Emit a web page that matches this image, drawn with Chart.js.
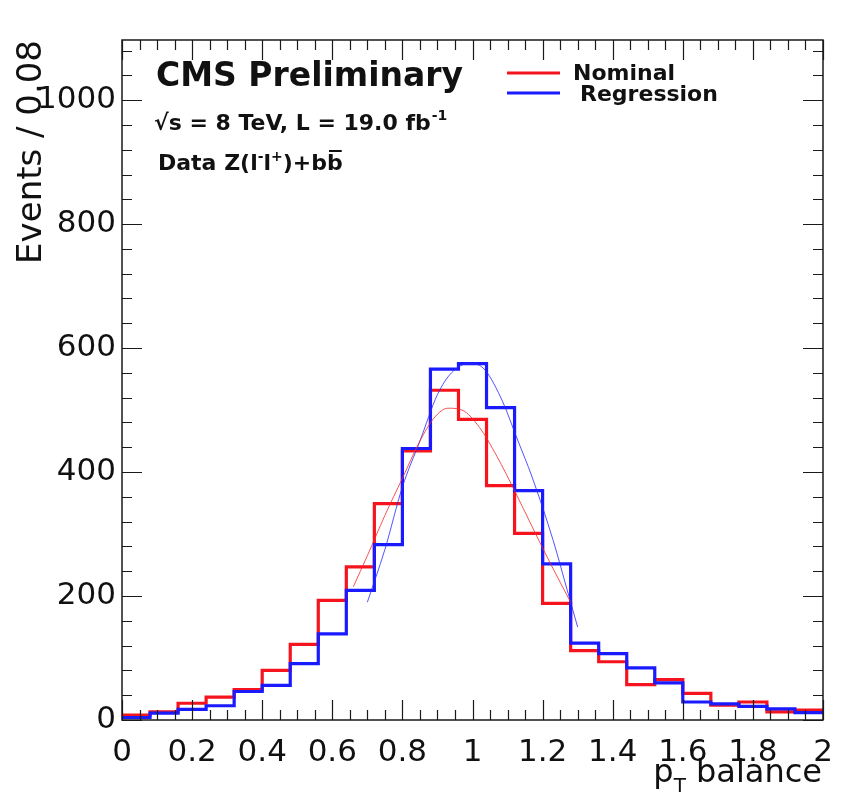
<!DOCTYPE html>
<html><head><meta charset="utf-8">
<script src="https://cdn.jsdelivr.net/npm/chart.js@4.4.1/dist/chart.umd.min.js"></script>
<style>html,body{margin:0;padding:0;background:#fff;}canvas{display:block;}</style>
</head><body>
<canvas id="c" width="848" height="811" style="width:848px;height:811px"></canvas>
<script>
// ---- data ----
const binEdges = [0,0.08,0.16,0.24,0.32,0.40,0.48,0.56,0.64,0.72,0.80,0.88,0.96,1.04,1.12,1.20,1.28,1.36,1.44,1.52,1.60,1.68,1.76,1.84,1.92,2.00];
const nominal    = [8,13,27,37,49,80,122,193,247,349,434,532,485,378,301,188,112,94,57,65,43,24,29,13,16];
const regression = [4,11,17,23,46,56,91,139,209,283,438,566,575,504,370,252,124,107,84,60,29,26,22,18,12];
const nominalFitX = [0.66,0.70,0.75,0.80,0.85,0.89,0.93,0.97,1.02,1.07,1.12,1.17,1.22,1.28];
const nominalFitY = [215,265,330,390,450,487,503,500,472,425,370,312,255,190];
const regressionFitX = [0.70,0.75,0.80,0.85,0.90,0.94,0.99,1.03,1.08,1.13,1.17,1.23,1.27,1.30];
const regressionFitY = [190,275,376,450,525,560,575,568,521,450,392,290,210,150];
const xTickValues = [0,0.2,0.4,0.6,0.8,1,1.2,1.4,1.6,1.8,2];
const yTickValues = [0,200,400,600,800,1000];
const seriesNames = ['Nominal','Regression'];

const RED = '#f5141e', BLUE = '#1a1aff';
const FONT = '"DejaVu Sans", sans-serif';

function stepPoints(vals){
  const pts = vals.map((v,i)=>({x:binEdges[i], y:v}));
  pts.push({x:binEdges[binEdges.length-1], y:vals[vals.length-1]});
  return pts;
}
function xyPoints(xs, ys){ return xs.map((x,i)=>({x:x, y:ys[i]})); }

const frameTicks = {
  id:'frameTicks',
  afterDraw(chart){
    const ctx = chart.ctx, a = chart.chartArea;
    const xs = chart.scales.x, ys = chart.scales.y;
    ctx.save();
    ctx.strokeStyle = '#1a1a1a';
    ctx.lineWidth = 1.5;
    ctx.strokeRect(a.left, a.top, a.right - a.left, a.bottom - a.top);
    ctx.lineWidth = 1.2;
    ctx.beginPath();
    for (let v = 0; v <= ys.max + 0.001; v += 40) {
      const major = Math.abs(v % 200) < 1e-6;
      const len = major ? 20 : 10;
      const p = Math.round(ys.getPixelForValue(v)) + 0.5;
      ctx.moveTo(a.left, p); ctx.lineTo(a.left + len, p);
      ctx.moveTo(a.right, p); ctx.lineTo(a.right - len, p);
    }
    for (let k = 0; k <= 40; k++) {
      const v = k * 0.05;
      const major = k % 4 === 0;
      const len = major ? 20 : 10;
      const p = Math.round(xs.getPixelForValue(v)) + 0.5;
      ctx.moveTo(p, a.bottom); ctx.lineTo(p, a.bottom - len);
      ctx.moveTo(p, a.top); ctx.lineTo(p, a.top + len);
    }
    ctx.stroke();
    ctx.restore();
  }
};

const annotations = {
  id:'annotations',
  afterDraw(chart){
    const ctx = chart.ctx;
    ctx.save();
    ctx.fillStyle = '#111';
    ctx.textBaseline = 'alphabetic';
    ctx.textAlign = 'left';
    ctx.font = 'bold 33px ' + FONT;
    ctx.fillText('CMS Preliminary', 156, 86);
    ctx.font = 'bold 22px ' + FONT;
    let x = 154;
    const t1 = '\u221As = 8 TeV, L = 19.0 fb';
    ctx.fillText(t1, x, 130);
    x += ctx.measureText(t1).width + 1;
    ctx.font = 'bold 14px ' + FONT;
    ctx.fillText('-1', x, 120);
    x = 158;
    const y3 = 170;
    const parts = [['Data Z(l',0,22],['-',-9,14],['l',0,22],['+',-9,14],[')+b',0,22]];
    for (const [s,dy,fs] of parts) {
      ctx.font = 'bold ' + fs + 'px ' + FONT;
      ctx.fillText(s, x, y3 + dy);
      x += ctx.measureText(s).width;
    }
    ctx.font = 'bold 22px ' + FONT;
    const bw = ctx.measureText('b').width;
    ctx.fillText('b', x, y3);
    ctx.fillRect(x + 2, y3 - 20, bw - 3, 2);
    ctx.lineWidth = 3;
    ctx.strokeStyle = RED;
    ctx.beginPath(); ctx.moveTo(507, 73); ctx.lineTo(560, 73); ctx.stroke();
    ctx.strokeStyle = BLUE;
    ctx.beginPath(); ctx.moveTo(507, 93); ctx.lineTo(560, 93); ctx.stroke();
    ctx.font = 'bold 22px ' + FONT;
    ctx.fillStyle = '#111';
    ctx.fillText(seriesNames[0], 573, 80);
    ctx.fillText(seriesNames[1], 580, 101);
    ctx.font = '32px ' + FONT;
    const tail = ' balance';
    const wTail = ctx.measureText(tail).width;
    const wp = ctx.measureText('p').width;
    ctx.font = '20px ' + FONT;
    const wT = ctx.measureText('T').width;
    const right = 822, base = 782;
    let sx = right - wTail - wT - wp;
    ctx.font = '32px ' + FONT;
    ctx.fillText('p', sx, base);
    ctx.font = '20px ' + FONT;
    ctx.fillText('T', sx + wp, base + 10);
    ctx.font = '32px ' + FONT;
    ctx.fillText(tail, sx + wp + wT, base);
    ctx.restore();
  }
};

new Chart(document.getElementById('c'), {
  type:'line',
  data:{
    datasets:[
      {label:seriesNames[0]+' fit', data:xyPoints(nominalFitX, nominalFitY), borderColor:'rgba(245,40,40,0.8)', borderWidth:1, pointRadius:0, tension:0.4, cubicInterpolationMode:'monotone', order:0},
      {label:seriesNames[1]+' fit', data:xyPoints(regressionFitX, regressionFitY), borderColor:'rgba(40,40,255,0.8)', borderWidth:1, pointRadius:0, tension:0.4, cubicInterpolationMode:'monotone', order:0},
      {label:seriesNames[1], data:stepPoints(regression), borderColor:BLUE, borderWidth:3.2, pointRadius:0, stepped:'before', order:1},
      {label:seriesNames[0], data:stepPoints(nominal), borderColor:RED, borderWidth:3.2, pointRadius:0, stepped:'before', order:2}
    ]
  },
  options:{
    responsive:false,
    animation:false,
    layout:{padding:{left:0, right:25, top:40, bottom:0}},
    plugins:{legend:{display:false}, tooltip:{enabled:false}},
    scales:{
      x:{
        type:'linear', min:0, max:2,
        grid:{display:false, drawTicks:false},
        border:{display:false},
        afterBuildTicks(s){ s.ticks = xTickValues.map(v=>({value:v})); },
        afterFit(s){ s.height = 91; },
        ticks:{font:{family:FONT, size:31}, color:'#111', padding:14, maxRotation:0, autoSkip:false,
               callback:(v)=>String(v)}
      },
      y:{
        type:'linear', min:0, max:1097,
        grid:{display:false, drawTicks:false},
        border:{display:false},
        afterBuildTicks(s){ s.ticks = yTickValues.map(v=>({value:v})); },
        afterFit(s){ s.width = 122; },
        ticks:{font:{family:FONT, size:31}, color:'#111', padding:6, callback:(v)=>String(v)},
        title:{display:true, text:'Events / 0.08', align:'end', font:{family:FONT, size:34}, color:'#111', padding:{top:12, bottom:0}}
      }
    }
  },
  plugins:[frameTicks, annotations]
});
</script>
</body></html>
